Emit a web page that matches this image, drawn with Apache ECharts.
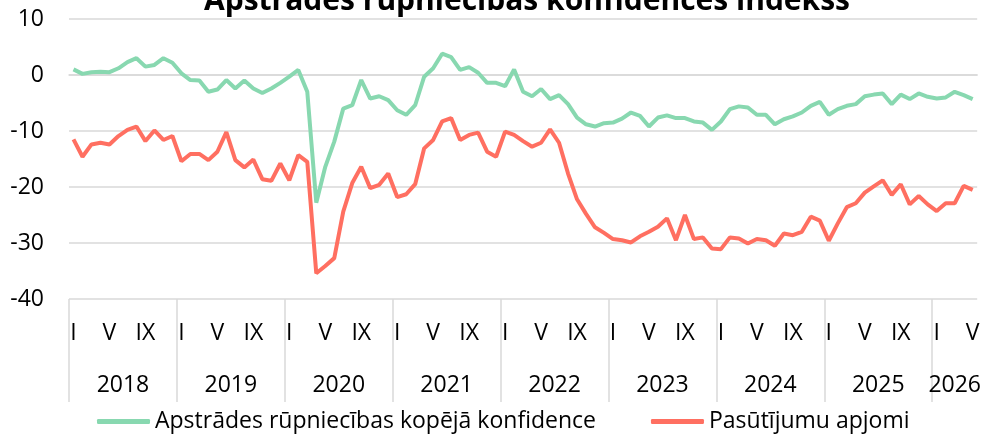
<!DOCTYPE html>
<html>
<head>
<meta charset="utf-8">
<script src="https://cdn.jsdelivr.net/npm/echarts@6/dist/echarts.min.js"></script>
<style>
  html, body { margin: 0; padding: 0; background: #fff; }
  #chart { width: 984px; height: 434px; }
</style>
</head>
<body>
<div id="chart"></div>
<script>
const years = ["2018", "2019", "2020", "2021", "2022", "2023", "2024", "2025", "2026"];
const monthNumerals = ["I", "II", "III", "IV", "V", "VI", "VII", "VIII", "IX", "X", "XI", "XII"];
const shownMonths = ["I", "V", "IX"];

// Apstrādes rūpniecības kopējā konfidence, Jan 2018 - May 2026
const confidence = [
    1.0, 0.2, 0.5, 0.6, 0.5, 1.2, 2.3, 3.0, 1.5, 1.8, 3.0, 2.2,
    0.3, -0.9, -1.0, -3.0, -2.6, -0.9, -2.4, -1.0, -2.4, -3.2, -2.4, -1.4,
    -0.3, 0.9, -3.0, -22.8, -16.4, -11.9, -6.0, -5.4, -0.9, -4.2, -3.8, -4.5,
    -6.3, -7.1, -5.4, -0.3, 1.2, 3.8, 3.2, 0.9, 1.4, 0.4, -1.4, -1.4,
    -2.0, 1.0, -3.0, -3.8, -2.5, -4.3, -3.6, -5.2, -7.6, -8.8, -9.2, -8.6,
    -8.5, -7.8, -6.7, -7.3, -9.2, -7.6, -7.2, -7.7, -7.7, -8.3, -8.5, -9.8,
    -8.3, -6.1, -5.6, -5.8, -7.1, -7.1, -8.8, -7.9, -7.4, -6.7, -5.5, -4.8,
    -7.1, -6.1, -5.5, -5.2, -3.8, -3.5, -3.3, -5.2, -3.5, -4.3, -3.3, -3.9,
    -4.2, -4.0, -3.0, -3.6, -4.3
];

// Pasūtījumu apjomi
const orders = [
    -11.5, -14.6, -12.4, -12.1, -12.4, -10.9, -9.8, -9.2, -11.8, -9.9, -11.6, -10.9,
    -15.4, -14.1, -14.1, -15.2, -13.7, -10.2, -15.2, -16.5, -15.1, -18.6, -18.9, -15.8,
    -18.8, -14.3, -15.5, -35.4, -34.1, -32.7, -24.4, -19.3, -16.4, -20.2, -19.6, -17.6,
    -21.8, -21.3, -19.5, -13.1, -11.6, -8.3, -7.7, -11.6, -10.7, -10.3, -13.7, -14.6,
    -10.1, -10.7, -11.8, -12.8, -12.1, -9.7, -12.1, -17.6, -22.2, -24.8, -27.2, -28.2,
    -29.3, -29.5, -29.9, -28.8, -28.0, -27.1, -25.6, -29.5, -25.0, -29.3, -29.0, -31.0,
    -31.1, -29.0, -29.2, -30.1, -29.3, -29.5, -30.5, -28.3, -28.6, -28.0, -25.3, -26.0,
    -29.6, -26.5, -23.6, -22.9, -21.0, -19.9, -18.8, -21.4, -19.5, -23.1, -21.6, -23.1,
    -24.3, -22.9, -22.9, -19.8, -20.5
];

const yTicks = { min: -40, max: 10, interval: 10 };

// month categories and year-boundary categories (one more than months)
const months = [];
const monthYear = [];
for (let i = 0; i < confidence.length; i++) {
    months.push(monthNumerals[i % 12]);
    monthYear.push(years[Math.floor(i / 12)]);
}
const boundaries = [];
for (let k = 0; k <= months.length; k++) {
    boundaries.push(String(k));
}
const lastYearStart = Math.floor((months.length - 1) / 12) * 12;
const lastYearCenter = Math.floor((lastYearStart + months.length) / 2);

const font = "Open Sans";
const fontSize = 23;
const gridColor = "#d9d9d9";

const chart = echarts.init(document.getElementById("chart"));
chart.setOption({
    animation: false,
    textStyle: { fontFamily: font },
    title: {
        text: "Apstrādes rūpniecības konfidences indekss",
        left: 522,
        textAlign: "center",
        top: -19,
        textStyle: { fontFamily: font, fontSize: 30, fontWeight: "bold", color: "#000" }
    },
    grid: { left: 69, right: 5, top: 19, bottom: 135 },
    legend: {
        left: 92,
        top: 405,
        icon: "roundRect",
        itemWidth: 53,
        itemHeight: 5,
        itemGap: 55,
        textStyle: { fontFamily: font, fontSize: fontSize, color: "#000" },
        data: ["Apstrādes rūpniecības kopējā konfidence", "Pasūtījumu apjomi"]
    },
    xAxis: [
        {
            type: "category",
            data: months,
            boundaryGap: true,
            axisLine: { show: true, lineStyle: { color: gridColor, width: 1.5 } },
            axisTick: { show: false },
            axisLabel: {
                interval: 0,
                margin: 23,
                fontFamily: font,
                fontSize: fontSize,
                color: "#000",
                formatter: function (value) {
                    return shownMonths.indexOf(value) >= 0 ? value : "";
                }
            }
        },
        {
            type: "category",
            data: boundaries,
            boundaryGap: false,
            position: "bottom",
            axisLine: { show: false },
            axisTick: {
                show: true,
                length: 103,
                interval: function (index) {
                    return index % 12 === 0 && index < months.length;
                },
                lineStyle: { color: gridColor, width: 1.5 }
            },
            axisLabel: {
                margin: 75,
                fontFamily: font,
                fontSize: fontSize,
                color: "#000",
                interval: function (index) {
                    return (index % 12 === 6 && index < lastYearStart) || index === lastYearCenter;
                },
                formatter: function (value) {
                    const k = Number(value);
                    if (k === lastYearCenter) {
                        return "{half|" + monthYear[lastYearStart] + "}";
                    }
                    return monthYear[k] || "";
                },
                rich: {
                    half: { fontFamily: font, fontSize: fontSize, color: "#000", padding: [0, 0, 0, 9] }
                }
            },
            splitLine: { show: false }
        }
    ],
    yAxis: {
        type: "value",
        min: yTicks.min,
        max: yTicks.max,
        interval: yTicks.interval,
        axisLine: { show: false },
        axisTick: { show: false },
        axisLabel: { margin: 25, fontFamily: font, fontSize: fontSize, color: "#000" },
        splitLine: { lineStyle: { color: gridColor, width: 1.5 } }
    },
    series: [
        {
            name: "Apstrādes rūpniecības kopējā konfidence",
            type: "line",
            data: confidence,
            symbol: "none",
            lineStyle: { color: "#88d8b0", width: 4 },
            itemStyle: { color: "#88d8b0" }
        },
        {
            name: "Pasūtījumu apjomi",
            type: "line",
            data: orders,
            symbol: "none",
            lineStyle: { color: "#ff6f61", width: 4 },
            itemStyle: { color: "#ff6f61" }
        }
    ]
});
</script>
</body>
</html>
